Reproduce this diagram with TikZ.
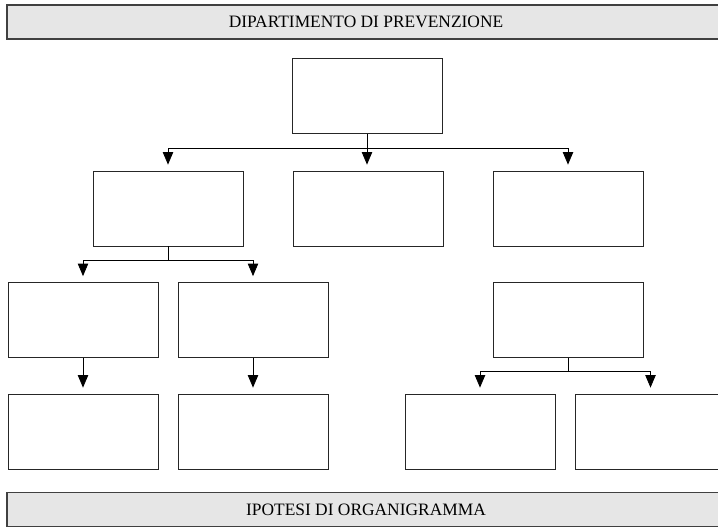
\documentclass[tikz,border=0pt]{standalone}
\usepackage{fontspec}
\setmainfont{Liberation Serif}
\usepackage{tikz}
\usetikzlibrary{arrows}
\usepackage{xcolor}
\definecolor{bandgray}{HTML}{E6E6E6}
\definecolor{banddraw}{HTML}{404040}

\begin{document}
\begin{tikzpicture}[->,>=triangle 45,shorten >=3pt,x=0.5pt,y=-0.5pt,thin]
\useasboundingbox (0,0) rectangle (718,527);
\tikzstyle{band}=[draw=banddraw,fill=bandgray,line width=0.8pt,minimum width=359pt,minimum height=17pt,inner sep=0pt,font=\fontsize{8.7}{10}\selectfont]
\tikzstyle{box}=[draw=black!85,thin,minimum width=75pt,minimum height=37.5pt,inner sep=0pt]
\node[band]        (top)    at (366,22)    {DIPARTIMENTO DI PREVENZIONE};
\node[band]        (bottom) at (366,509.5) {IPOTESI DI ORGANIGRAMMA};
\node[box]         (root)   at (367,96)    {};
\node[box]         (A)      at (168,208.5) {};
\node[box]         (B)      at (368,208.5) {};
\node[box]         (C)      at (568,208.5) {};
\node[box]         (D)      at (83,320)    {};
\node[box]         (E)      at (253,320)   {};
\node[box]         (F)      at (568,320)   {};
\node[box]         (G)      at (83,431.5)  {};
\node[box]         (H)      at (253,431.5) {};
\node[box]         (I)      at (480,431.5) {};
\node[box]         (J)      at (650.5,431.5) {};

% junctions
\path (root.south) ++(0,14) coordinate (j1);
\path (A.south) ++(0,14) coordinate (j2);
\path (F.south) ++(0,13) coordinate (j3);

\draw (root) -- (root |- B.north);
\draw (j1) -| (A);
\draw (j1) -| (C);
\draw[-,shorten >=0pt] (A) -- (j2);
\draw (j2) -| (D);
\draw (j2) -| (E);
\draw (D) -- (G);
\draw (E) -- (H);
\draw[-,shorten >=0pt] (F) -- (j3);
\draw (j3) -| (I);
\draw (j3) -| (J);
\end{tikzpicture}
\end{document}
